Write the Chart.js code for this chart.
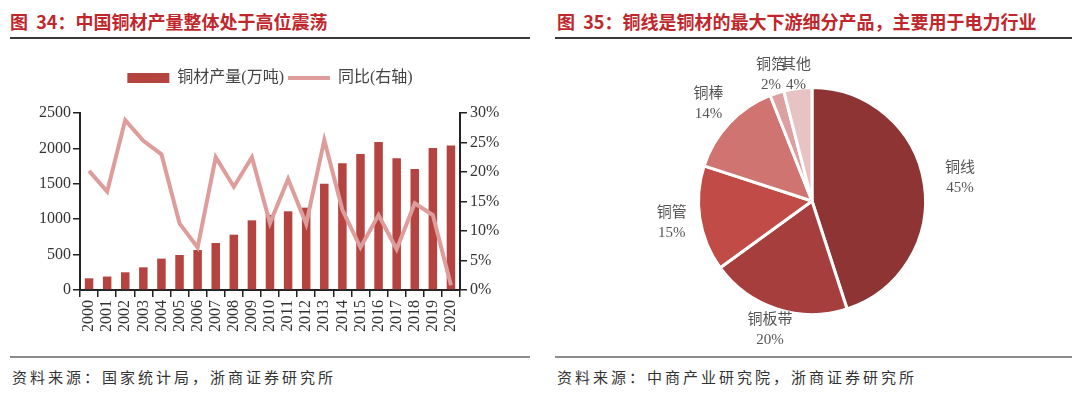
<!DOCTYPE html>
<html>
<head>
<meta charset="utf-8">
<script src="https://cdn.jsdelivr.net/npm/chart.js@4.4.0/dist/chart.umd.min.js"></script>
<style>
  body { margin: 0; width: 1080px; height: 394px; background: #fff; position: relative; overflow: hidden; }
  .title { position: absolute; top: 9px; font: bold 18px "Noto Sans CJK SC", sans-serif; line-height: 24px; color: #c0272d; white-space: nowrap; }
  .rule { position: absolute; height: 2px; }
  .top { top: 37px; background: #3a3a3a; }
  .bottom { top: 356px; background: #8c8c8c; }
  .source { position: absolute; top: 366px; font: 15px "Noto Sans CJK SC", sans-serif; line-height: 22px; color: #333; letter-spacing: 3px; white-space: nowrap; }
  canvas { position: absolute; top: 45px; }
</style>
</head>
<body>
<div class="title" style="left:10px">图&nbsp;&nbsp;34：中国铜材产量整体处于高位震荡</div>
<div class="rule top" style="left:10px;width:520px"></div>
<div class="title" style="left:557px">图&nbsp;&nbsp;35：铜线是铜材的最大下游细分产品，主要用于电力行业</div>
<div class="rule top" style="left:555px;width:517px"></div>

<canvas id="outputChart" width="540" height="305" style="left:0"></canvas>
<canvas id="usageChart" width="540" height="305" style="left:540px"></canvas>

<div class="rule bottom" style="left:10px;width:520px"></div>
<div class="source" style="left:12px">资料来源：国家统计局，浙商证券研究所</div>
<div class="rule bottom" style="left:555px;width:517px"></div>
<div class="source" style="left:557px">资料来源：中商产业研究院，浙商证券研究所</div>

<script>
const years = ['2000', '2001', '2002', '2003', '2004', '2005', '2006', '2007', '2008', '2009', '2010',
  '2011', '2012', '2013', '2014', '2015', '2016', '2017', '2018', '2019', '2020'];
// 铜材产量(万吨)
const output = [165, 190, 250, 320, 443, 494, 565, 664, 781, 984, 1059,
  1111, 1163, 1502, 1790, 1920, 2090, 1862, 1710, 2006, 2040];
// 同比(%)
const yoy = [20.2, 16.7, 28.8, 25.3, 23.0, 11.3, 7.2, 22.5, 17.5, 22.5, 11.3,
  18.8, 11.2, 25.4, 13.6, 7.2, 12.7, 6.9, 14.7, 12.7, 0.8];
const leftTicks = [0, 500, 1000, 1500, 2000, 2500];
const rightTicks = [0, 5, 10, 15, 20, 25, 30];

const usageNames = ['铜线', '铜板带', '铜管', '铜棒', '铜箔', '其他'];
const usageShares = [45, 20, 15, 14, 2, 4];

const serif = '"Liberation Serif", "Noto Sans CJK SC", serif';
const axisColor = '#222';

function axisGrid() {
  return {
    display: true,
    drawOnChartArea: false,
    drawTicks: true,
    tickLength: 7,
    color: axisColor,
    lineWidth: 1.5,
  };
}

function loadOutputChart() {
  const ctx = document.getElementById('outputChart');
  // eslint-disable-next-line no-unused-vars,no-undef
  const outputChart = new Chart(ctx, {
    data: {
      labels: years,
      datasets: [{
        type: 'line',
        label: '同比(右轴)',
        data: yoy,
        yAxisID: 'y1',
        borderColor: '#de9c9b',
        backgroundColor: '#de9c9b',
        borderWidth: 4,
        pointRadius: 0,
        pointStyle: 'line',
        tension: 0,
        order: 0,
      }, {
        type: 'bar',
        label: '铜材产量(万吨)',
        data: output,
        yAxisID: 'y',
        backgroundColor: '#b5433f',
        pointStyle: 'rect',
        barPercentage: 0.47,
        categoryPercentage: 1,
        order: 1,
      }],
    },
    options: {
      responsive: false,
      animation: false,
      layout: { padding: { top: 21, left: 0, right: 0, bottom: 0 } },
      plugins: {
        legend: {
          display: true,
          position: 'top',
          reverse: true,
          labels: {
            usePointStyle: true,
            pointStyleWidth: 42,
            boxHeight: 10,
            padding: 4,
            color: '#444',
            font: { family: serif, size: 16 },
          },
        },
        // empty title used only as a spacer between legend and plot
        title: {
          display: true,
          text: '',
          weight: 500,
          padding: { top: 0, bottom: 5 },
          font: { size: 10 },
        },
        tooltip: { enabled: false },
      },
      scales: {
        x: {
          offset: true,
          grid: { ...axisGrid(), offset: true },
          border: { display: true, color: axisColor, width: 2 },
          ticks: {
            color: '#333',
            font: { family: serif, size: 16 },
            minRotation: 90,
            maxRotation: 90,
            padding: 3,
            autoSkip: false,
          },
          afterFit: (scale) => { scale.height = 60; },
        },
        y: {
          position: 'left',
          min: 0,
          max: 2500,
          grid: axisGrid(),
          border: { display: true, color: axisColor, width: 2 },
          afterBuildTicks: (scale) => { scale.ticks = leftTicks.map((v) => ({ value: v })); },
          ticks: {
            color: '#333',
            font: { family: serif, size: 16 },
            padding: 2,
            callback: (v) => String(v),
          },
          afterFit: (scale) => { scale.width = 80; },
        },
        y1: {
          position: 'right',
          min: 0,
          max: 30,
          grid: axisGrid(),
          border: { display: true, color: axisColor, width: 2 },
          afterBuildTicks: (scale) => { scale.ticks = rightTicks.map((v) => ({ value: v })); },
          ticks: {
            color: '#333',
            font: { family: serif, size: 16 },
            padding: 3,
            callback: (v) => `${v}%`,
          },
          afterFit: (scale) => { scale.width = 80; },
        },
      },
    },
  });
}

const pieLabels = {
  id: 'pieLabels',
  afterDatasetsDraw(chart, args, opts) {
    const { ctx } = chart;
    const meta = chart.getDatasetMeta(0);
    ctx.save();
    ctx.fillStyle = '#555';
    ctx.font = `15px ${serif}`;
    ctx.textAlign = 'center';
    ctx.textBaseline = 'middle';
    meta.data.forEach((arc, i) => {
      const p = arc.getProps(['x', 'y', 'startAngle', 'endAngle', 'outerRadius'], true);
      const mid = (p.startAngle + p.endAngle) / 2;
      const r = p.outerRadius * opts.distance[i];
      const x = p.x + Math.cos(mid) * r;
      const y = p.y + Math.sin(mid) * r;
      ctx.fillText(usageNames[i], x, y - 10);
      ctx.fillText(`${usageShares[i]}%`, x, y + 10);
    });
    ctx.restore();
  },
};

function loadUsageChart() {
  const ctx = document.getElementById('usageChart');
  // eslint-disable-next-line no-unused-vars,no-undef
  const usageChart = new Chart(ctx, {
    type: 'pie',
    data: {
      labels: usageNames,
      datasets: [{
        data: usageShares,
        backgroundColor: ['#8e3434', '#a63e3d', '#c04b47', '#d07471', '#dca0a0', '#e7c3c4'],
        borderColor: '#fff',
        borderWidth: 3,
      }],
    },
    options: {
      responsive: false,
      animation: false,
      layout: { padding: { left: 157, right: 153, top: 41, bottom: 34 } },
      plugins: {
        legend: { display: false },
        tooltip: { enabled: false },
        pieLabels: { distance: [1.32, 1.2, 1.25, 1.25, 1.17, 1.12] },
      },
    },
    plugins: [pieLabels],
  });
}

document.addEventListener('DOMContentLoaded', () => {
  loadOutputChart();
  loadUsageChart();
});
</script>
</body>
</html>
